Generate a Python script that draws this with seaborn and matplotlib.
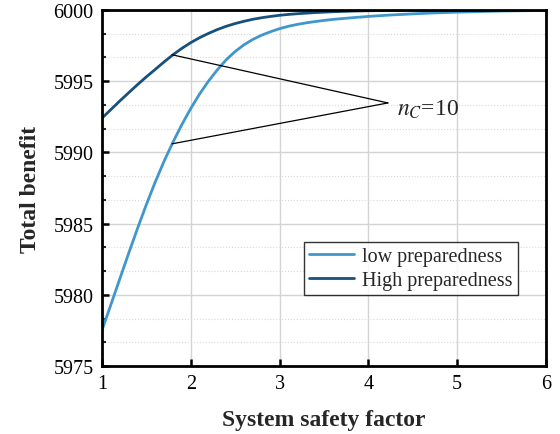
import matplotlib
matplotlib.use('Agg')
import matplotlib.pyplot as plt
import seaborn as sns
import pandas as pd
from matplotlib.ticker import AutoMinorLocator, MultipleLocator

# values
safety_factor = [1.0, 1.1, 1.2, 1.3, 1.4, 1.5, 1.6, 1.7, 1.8, 1.9,
                 2.0, 2.1, 2.2, 2.3, 2.4, 2.5, 2.6, 2.7, 2.8, 2.9,
                 3.0, 3.1, 3.2, 3.3, 3.4, 3.5, 3.6, 3.8, 4.0, 4.25,
                 4.5, 4.75, 5.0, 5.5, 6.0]
low_prep = [5977.5, 5979.3, 5981.1, 5982.9, 5984.65, 5986.33, 5987.92, 5989.38,
            5990.72, 5991.95, 5993.08, 5994.1, 5995.0, 5995.8, 5996.5,
            5997.08, 5997.55, 5997.93, 5998.23, 5998.47, 5998.68, 5998.85,
            5998.98, 5999.09, 5999.18, 5999.26, 5999.33, 5999.44, 5999.54,
            5999.64, 5999.72, 5999.79, 5999.84, 5999.92, 5999.96]
high_prep = [5992.4, 5993.0, 5993.6, 5994.18, 5994.75, 5995.3, 5995.82,
             5996.35, 5996.85, 5997.3, 5997.7, 5998.05, 5998.35, 5998.62,
             5998.85, 5999.04, 5999.2, 5999.34, 5999.45, 5999.54, 5999.62,
             5999.68, 5999.73, 5999.77, 5999.81, 5999.84, 5999.87, 5999.91,
             5999.94, 5999.96, 5999.97, 5999.98, 5999.99, 6000.0, 6000.0]
series_names = ['low preparedness', 'High preparedness']
series_colors = ['#3f97cb', '#17507d']

# annotation: curve points and meeting point of the leader lines
anno_x = 1.79
anno_y = [5996.85, 5990.6]
anno_tip = (4.22, 5993.47)
anno_text = r'$n_C$=10'

df = pd.DataFrame({
    'factor': safety_factor * 2,
    'benefit': low_prep + high_prep,
    'case': [series_names[0]] * len(low_prep) + [series_names[1]] * len(high_prep),
})

sns.set_theme(style='ticks')
plt.rcParams['font.family'] = ['Liberation Serif', 'DejaVu Serif']
plt.rcParams['mathtext.fontset'] = 'stix'

fig = plt.figure(figsize=(5.6, 4.35), dpi=100)
ax = fig.add_axes([0.182, 0.156, 0.793, 0.819])

sns.lineplot(data=df, x='factor', y='benefit', hue='case',
             palette=dict(zip(series_names, series_colors)),
             linewidth=2.0, ax=ax)

# leader lines to the label
for yv in anno_y:
    ax.plot([anno_x, anno_tip[0]], [yv, anno_tip[1]], color='black', lw=0.9, zorder=4)
ax.text(anno_tip[0] + 0.1, anno_tip[1] - 0.45, anno_text, fontsize=17,
        va='center', ha='left')

ax.set_xlim(1, 6)
ax.set_ylim(5975, 6000)
ax.xaxis.set_major_locator(MultipleLocator(1))
ax.yaxis.set_major_locator(MultipleLocator(5))
ax.yaxis.set_minor_locator(AutoMinorLocator(3))

ax.grid(True, which='major', color='#d4d4d4', lw=1.0)
ax.grid(True, which='minor', axis='y', color='#d8d8d8', lw=0.8, ls=':')
ax.set_axisbelow(True)

ax.tick_params(which='major', direction='in', length=5, width=1.8,
               labelsize=14.5, colors='black', pad=6)
ax.tick_params(which='minor', direction='in', length=3, width=1.5)
for s in ax.spines.values():
    s.set_linewidth(2.0)
    s.set_color('black')

ax.set_xlabel('System safety factor', fontsize=17, fontweight='bold', labelpad=11)
ax.set_ylabel('Total benefit', fontsize=17, fontweight='bold', labelpad=9)

leg = ax.legend(loc='lower right', bbox_to_anchor=(0.937, 0.2), fontsize=14.5,
                frameon=True, fancybox=False, edgecolor='black',
                handlelength=2.25, borderpad=0.25, labelspacing=0.25,
                handletextpad=0.4, borderaxespad=0)
leg.get_frame().set_linewidth(1.0)

fig.savefig('out.png', dpi=100)
